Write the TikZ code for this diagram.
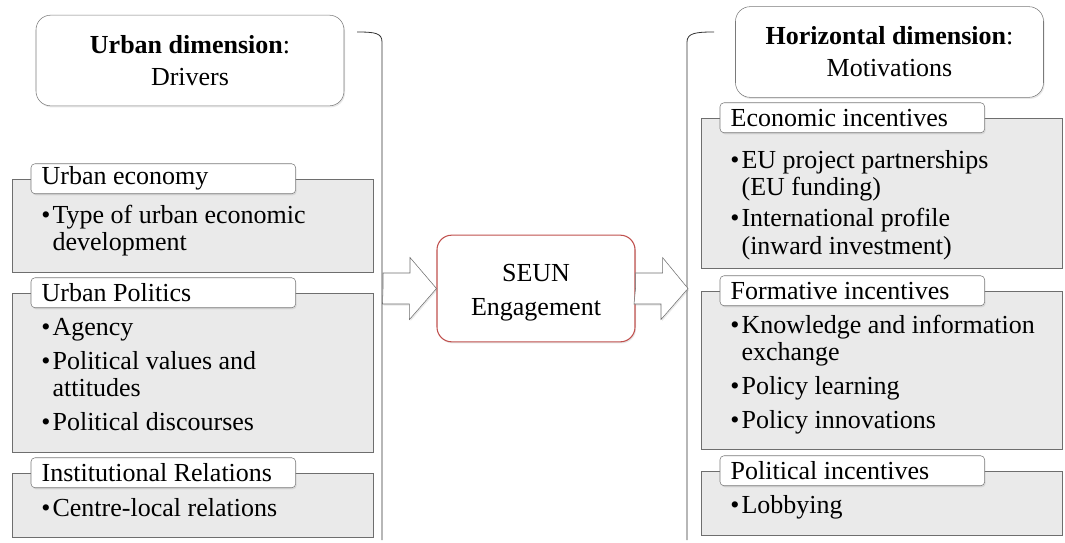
\documentclass[tikz,border=0pt]{standalone}
\usepackage{fontspec}
\setmainfont{Liberation Serif}
\usetikzlibrary{positioning, fit, calc, shadows}

\definecolor{boxline}{HTML}{7A7A7A}
\definecolor{grpline}{HTML}{6E6E6E}
\definecolor{grpfill}{HTML}{EAEAEA}
\definecolor{seunred}{HTML}{C0504D}

\newcommand{\itm}{\makebox[8.5pt][l]{\textbullet}}
\newcommand{\ind}{\hspace*{8.5pt}}
\newcommand{\lb}[1]{\makebox[182.5pt][l]{#1}}

\begin{document}
\begin{tikzpicture}[
    x=0.75pt, y=-0.75pt,
    softshadow/.style={drop shadow={opacity=0.18, shadow xshift=0.8pt, shadow yshift=-1.2pt}},
    title/.style={draw=boxline, fill=white, rounded corners=11pt, minimum width=231pt, minimum height=68pt, align=center, font=\fontsize{19.5}{24}\selectfont, softshadow},
    grp/.style={draw=grpline, fill=grpfill, inner sep=0pt},
    lbl/.style={draw=boxline, fill=white, rounded corners=3pt, inner xsep=8pt, inner ysep=0pt, minimum height=22.5pt, anchor=west, font=\fontsize{19.5}{20.5}\selectfont, softshadow},
    items/.style={anchor=north west, inner sep=0pt, align=left, font=\fontsize{19.5}{20.5}\selectfont},
    seun/.style={draw=seunred, line width=0.8pt, fill=white, rounded corners=11pt, minimum width=148.5pt, minimum height=80pt, align=center, font=\fontsize{19.5}{25.5}\selectfont, softshadow},
    blk/.style={draw=grpline, fill=white, line join=miter, softshadow},
    brace/.style={draw=black!80, line width=0.6pt}
]
\useasboundingbox (0,0) rectangle (1065,543);

% titles
\node[title] (urbTitle) at (190,60.5) {\textbf{Urban dimension}:\\Drivers};
\node[title] (horTitle) at (889.5,52) {\textbf{Horizontal dimension}:\\Motivations};

% brackets
\draw[brace] (357,32) .. controls (375,32) and (382,33) .. (382,42) -- (382,540);
\draw[brace] (714,32) .. controls (696,32) and (687,33) .. (687,42) -- (687,540);
\coordinate (lbrk) at (383,288.5);
\coordinate (rbrk) at (688,288.5);

% left groups
\node[grp, fit={(12,179) (373,272)}] (ecoBox) {};
\node[grp, fit={(12,293) (373,452)}] (polBox) {};
\node[grp, fit={(12,473) (373,537)}] (instBox) {};

\node[lbl] (ecoLbl) at ($(ecoBox.north west)+(19,0)$) {\lb{Urban economy}};
\node[lbl] (polLbl) at ($(polBox.north west)+(19,0)$) {\lb{Urban Politics}};
\node[lbl] (instLbl) at ($(instBox.north west)+(19,0)$) {\lb{Institutional Relations}};

\node[items] (ecoItems) at (41,205) {\itm Type of urban economic\\\ind development};
\node[items] (polItems) at (41,318) {\itm Agency\\[5pt]\itm Political values and\\\ind attitudes\\[5pt]\itm Political discourses};
\node[items] (instItems) at (41,498) {\itm Centre-local relations};

% centre
\node[seun] (seun) at (536,288.5) {\rule{0pt}{19pt}SEUN\\Engagement};

\draw[blk] (lbrk) -- ++(0,-15.5) -- ++(27,0) -- ++(0,-15.5) -- (seun.west) -- ++(-27,31) -- ++(0,-15.5) -- ++(-27,0) -- cycle;
\draw[blk] (seun.east) -- ++(0,-15.5) -- ++(27,0) -- ++(0,-15.5) -- (rbrk) -- ++(-27,31) -- ++(0,-15.5) -- ++(-27,0) -- cycle;

% right groups
\node[grp, fit={(701,118) (1062,268)}] (ecnBox) {};
\node[grp, fit={(701,291) (1062,449)}] (formBox) {};
\node[grp, fit={(701,471) (1062,535)}] (pltBox) {};

\node[lbl] (ecnLbl) at ($(ecnBox.north west)+(19,0)$) {\lb{Economic incentives}};
\node[lbl] (formLbl) at ($(formBox.north west)+(19,0)$) {\lb{Formative incentives}};
\node[lbl] (pltLbl) at ($(pltBox.north west)+(19,0)$) {\lb{Political incentives}};

\node[items] (ecnItems) at (730,150) {\itm EU project partnerships\\\ind (EU funding)\\[3pt]\itm International profile\\\ind (inward investment)};
\node[items] (formItems) at (730,315) {\itm Knowledge and information\\\ind exchange\\[5pt]\itm Policy learning\\[5pt]\itm Policy innovations};
\node[items] (pltItems) at (730,495) {\itm Lobbying};

\end{tikzpicture}
\end{document}
